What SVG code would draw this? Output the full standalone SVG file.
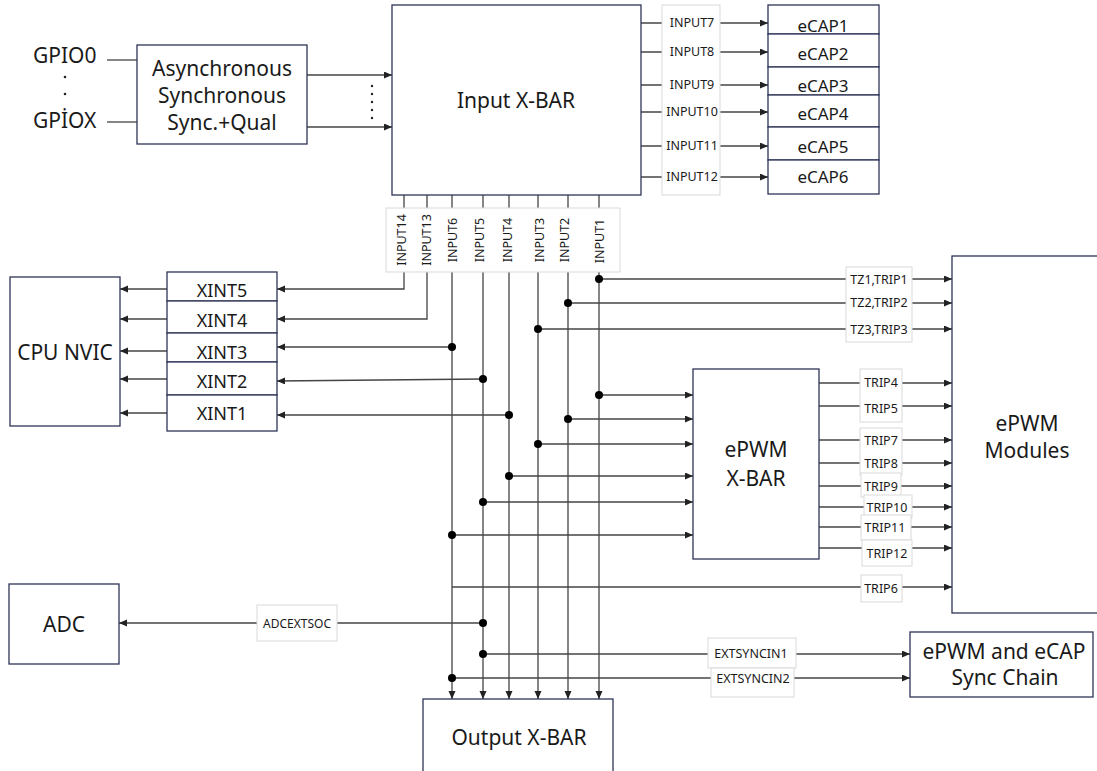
<svg xmlns="http://www.w3.org/2000/svg" width="1097" height="771" viewBox="0 0 1097 771">
<defs>
<marker id="ar" markerUnits="userSpaceOnUse" markerWidth="9" markerHeight="8" refX="8" refY="3.5" orient="auto">
<path d="M0,0 L8,3.5 L0,7 z" fill="#222"/>
</marker>
<style>
.box{fill:#fff;stroke:#2e3558;stroke-width:1.3}
.lbl{fill:#fff;stroke:#d9d9d9;stroke-width:1}
.ln{fill:none;stroke:#444;stroke-width:1.3}
.arr{fill:none;stroke:#444;stroke-width:1.3;marker-end:url(#ar)}
.dot{fill:#000}
text{font-family:"Noto Sans","Open Sans","Liberation Sans",sans-serif;fill:#1a1a1a}
.big{font-size:21px;text-anchor:middle}
.mid{font-size:18px;text-anchor:middle}
.cap{font-size:17px;text-anchor:middle}
.sm{font-size:12.5px;text-anchor:middle}
</style>
</defs>
<rect width="1097" height="771" fill="#fff"/>

<g id="connectors">
<line class="ln" x1="107" y1="60" x2="137" y2="60"/>
<line class="ln" x1="107" y1="122" x2="137" y2="122"/>
<line class="arr" x1="307" y1="75" x2="392" y2="75"/>
<line class="arr" x1="307" y1="127" x2="392" y2="127"/>
<line class="arr" x1="641" y1="23" x2="768" y2="23"/>
<line class="arr" x1="641" y1="52" x2="768" y2="52"/>
<line class="arr" x1="641" y1="85" x2="768" y2="85"/>
<line class="arr" x1="641" y1="112" x2="768" y2="112"/>
<line class="arr" x1="641" y1="146" x2="768" y2="146"/>
<line class="arr" x1="641" y1="177" x2="768" y2="177"/>
<polyline class="arr" points="404,195 404,289 277,289"/>
<polyline class="arr" points="427,195 427,319 277,319"/>
<line class="arr" x1="452" y1="195" x2="452" y2="699"/>
<line class="arr" x1="483" y1="195" x2="483" y2="699"/>
<line class="arr" x1="509" y1="195" x2="509" y2="699"/>
<line class="arr" x1="538" y1="195" x2="538" y2="699"/>
<line class="arr" x1="568" y1="195" x2="568" y2="699"/>
<line class="arr" x1="599" y1="195" x2="599" y2="699"/>
<line class="arr" x1="452" y1="347" x2="277" y2="347"/>
<line class="arr" x1="483" y1="379" x2="277" y2="381"/>
<line class="arr" x1="509" y1="415" x2="277" y2="415"/>
<line class="arr" x1="167" y1="289" x2="120" y2="289"/>
<line class="arr" x1="167" y1="319" x2="120" y2="319"/>
<line class="arr" x1="167" y1="351" x2="120" y2="351"/>
<line class="arr" x1="167" y1="379" x2="120" y2="379"/>
<line class="arr" x1="167" y1="413" x2="120" y2="413"/>
<line class="arr" x1="599" y1="279" x2="952" y2="279"/>
<line class="arr" x1="568" y1="303" x2="952" y2="303"/>
<line class="arr" x1="538" y1="329" x2="952" y2="329"/>
<line class="arr" x1="599" y1="395" x2="693" y2="395"/>
<line class="arr" x1="568" y1="419" x2="693" y2="419"/>
<line class="arr" x1="538" y1="444" x2="693" y2="444"/>
<line class="arr" x1="509" y1="476" x2="693" y2="476"/>
<line class="arr" x1="483" y1="502" x2="693" y2="502"/>
<line class="arr" x1="452" y1="535" x2="693" y2="535"/>
<line class="arr" x1="819" y1="383" x2="952" y2="383"/>
<line class="arr" x1="819" y1="406" x2="952" y2="406"/>
<line class="arr" x1="819" y1="440" x2="952" y2="440"/>
<line class="arr" x1="819" y1="463" x2="952" y2="463"/>
<line class="arr" x1="819" y1="486" x2="952" y2="486"/>
<line class="arr" x1="819" y1="507" x2="952" y2="507"/>
<line class="arr" x1="819" y1="527" x2="952" y2="527"/>
<line class="arr" x1="819" y1="548" x2="952" y2="548"/>
<line class="arr" x1="452" y1="587" x2="952" y2="587"/>
<line class="arr" x1="483" y1="623" x2="119" y2="623"/>
<line class="arr" x1="483" y1="654" x2="910" y2="654"/>
<line class="arr" x1="452" y1="678" x2="910" y2="678"/>
<circle class="dot" cx="452" cy="347" r="4"/>
<circle class="dot" cx="483" cy="379" r="4"/>
<circle class="dot" cx="509" cy="415" r="4"/>
<circle class="dot" cx="599" cy="279" r="4"/>
<circle class="dot" cx="568" cy="303" r="4"/>
<circle class="dot" cx="538" cy="329" r="4"/>
<circle class="dot" cx="599" cy="395" r="4"/>
<circle class="dot" cx="568" cy="419" r="4"/>
<circle class="dot" cx="538" cy="444" r="4"/>
<circle class="dot" cx="509" cy="476" r="4"/>
<circle class="dot" cx="483" cy="502" r="4"/>
<circle class="dot" cx="452" cy="535" r="4"/>
<circle class="dot" cx="483" cy="623" r="4"/>
<circle class="dot" cx="483" cy="654" r="4"/>
<circle class="dot" cx="452" cy="678" r="4"/>
</g>

<g id="gpio">
<text x="33" y="63" font-size="21">GPIO0</text>
<circle cx="65" cy="77" r="1.3" fill="#222"/>
<circle cx="65" cy="94" r="1.3" fill="#222"/>
<text x="33" y="128" font-size="21">GPİOX</text>
</g>

<g id="qual">
<rect class="box" x="137" y="45" width="170" height="99"/>
<text class="big" x="222" y="76">Asynchronous</text>
<text class="big" x="222" y="103">Synchronous</text>
<text class="big" x="222" y="130">Sync.+Qual</text>
<g fill="#222">
<circle cx="372" cy="86" r="1.2"/><circle cx="372" cy="94" r="1.2"/><circle cx="372" cy="102" r="1.2"/><circle cx="372" cy="110" r="1.2"/><circle cx="372" cy="118" r="1.2"/>
</g>
</g>

<g id="input-xbar">
<rect class="box" x="392" y="5" width="249" height="190"/>
<text class="big" x="516" y="108">Input X-BAR</text>
</g>

<g id="ecap-labels">
<rect class="lbl" x="662" y="5" width="58" height="190"/>
<text class="sm" x="692" y="27">INPUT7</text>
<text class="sm" x="692" y="56">INPUT8</text>
<text class="sm" x="692" y="89">INPUT9</text>
<text class="sm" x="692" y="116">INPUT10</text>
<text class="sm" x="692" y="150">INPUT11</text>
<text class="sm" x="692" y="181">INPUT12</text>
</g>

<g id="ecap">
<rect class="box" x="768" y="5" width="111" height="29"/>
<rect class="box" x="768" y="34" width="111" height="33"/>
<rect class="box" x="768" y="67" width="111" height="28"/>
<rect class="box" x="768" y="95" width="111" height="32"/>
<rect class="box" x="768" y="127" width="111" height="33"/>
<rect class="box" x="768" y="160" width="111" height="34"/>
<text class="cap" x="823" y="32">eCAP1</text>
<text class="cap" x="823" y="60">eCAP2</text>
<text class="cap" x="823" y="92">eCAP3</text>
<text class="cap" x="823" y="120">eCAP4</text>
<text class="cap" x="823" y="153">eCAP5</text>
<text class="cap" x="823" y="183">eCAP6</text>
</g>

<g id="input-labels">
<rect class="lbl" x="386" y="208" width="234" height="64"/>
<g font-size="12.5" text-anchor="middle">
<text transform="translate(406,240) rotate(-90)">INPUT14</text>
<text transform="translate(431,240) rotate(-90)">INPUT13</text>
<text transform="translate(457,240) rotate(-90)">INPUT6</text>
<text transform="translate(484,240) rotate(-90)">INPUT5</text>
<text transform="translate(512,240) rotate(-90)">INPUT4</text>
<text transform="translate(544,240) rotate(-90)">INPUT3</text>
<text transform="translate(569,240) rotate(-90)">INPUT2</text>
<text transform="translate(604,241) rotate(-90)">INPUT1</text>
</g>
</g>

<g id="cpu-nvic">
<rect class="box" x="10" y="277" width="110" height="149"/>
<text class="big" x="65" y="360">CPU NVIC</text>
</g>

<g id="xint">
<rect class="box" x="167" y="272" width="110" height="29"/>
<rect class="box" x="167" y="301" width="110" height="32"/>
<rect class="box" x="167" y="333" width="110" height="29"/>
<rect class="box" x="167" y="362" width="110" height="33"/>
<rect class="box" x="167" y="395" width="110" height="36"/>
<text class="mid" x="222" y="297">XINT5</text>
<text class="mid" x="222" y="327">XINT4</text>
<text class="mid" x="222" y="359">XINT3</text>
<text class="mid" x="222" y="388">XINT2</text>
<text class="mid" x="222" y="420">XINT1</text>
</g>

<g id="tz-labels">
<rect class="lbl" x="846" y="267" width="66" height="75"/>
<text class="sm" x="879" y="284">TZ1,TRIP1</text>
<text class="sm" x="879" y="307">TZ2,TRIP2</text>
<text class="sm" x="879" y="334">TZ3,TRIP3</text>
</g>

<g id="epwm-xbar">
<rect class="box" x="693" y="369" width="126" height="190"/>
<text class="big" x="756" y="457">ePWM</text>
<text class="big" x="756" y="486">X-BAR</text>
</g>

<g id="trip-labels">
<rect class="lbl" x="860" y="369" width="42" height="53"/>
<rect class="lbl" x="860" y="428" width="42" height="47"/>
<rect class="lbl" x="861" y="473" width="40" height="24"/>
<rect class="lbl" x="864" y="495" width="48" height="23"/>
<rect class="lbl" x="861" y="515" width="50" height="25"/>
<rect class="lbl" x="862" y="540" width="50" height="26"/>
<rect class="lbl" x="861" y="575" width="41" height="27"/>
<text class="sm" x="881" y="387">TRIP4</text>
<text class="sm" x="881" y="413">TRIP5</text>
<text class="sm" x="881" y="445">TRIP7</text>
<text class="sm" x="881" y="468">TRIP8</text>
<text class="sm" x="881" y="491">TRIP9</text>
<text class="sm" x="887" y="512">TRIP10</text>
<text class="sm" x="885" y="532">TRIP11</text>
<text class="sm" x="887" y="558">TRIP12</text>
<text class="sm" x="881" y="593">TRIP6</text>
</g>

<g id="epwm-modules">
<rect class="box" x="952" y="256" width="150" height="357"/>
<text class="big" x="1027" y="431">ePWM</text>
<text class="big" x="1027" y="458">Modules</text>
</g>

<g id="adc">
<rect class="box" x="9" y="584" width="110" height="80"/>
<text class="big" x="64" y="632">ADC</text>
<rect class="lbl" x="257" y="605" width="80" height="36"/>
<text x="297" y="628" font-size="12" text-anchor="middle">ADCEXTSOC</text>
</g>

<g id="sync-labels">
<rect class="lbl" x="708" y="638" width="88" height="30"/>
<rect class="lbl" x="711" y="668" width="83" height="29"/>
<text class="sm" x="751" y="658">EXTSYNCIN1</text>
<text class="sm" x="753" y="683">EXTSYNCIN2</text>
</g>

<g id="sync-chain">
<rect class="box" x="910" y="632" width="183" height="65"/>
<text class="big" x="1004" y="659">ePWM and eCAP</text>
<text class="big" x="1005" y="685">Sync Chain</text>
</g>

<g id="output-xbar">
<rect class="box" x="423" y="699" width="190" height="80"/>
<text class="big" x="519" y="745">Output X-BAR</text>
</g>
</svg>
